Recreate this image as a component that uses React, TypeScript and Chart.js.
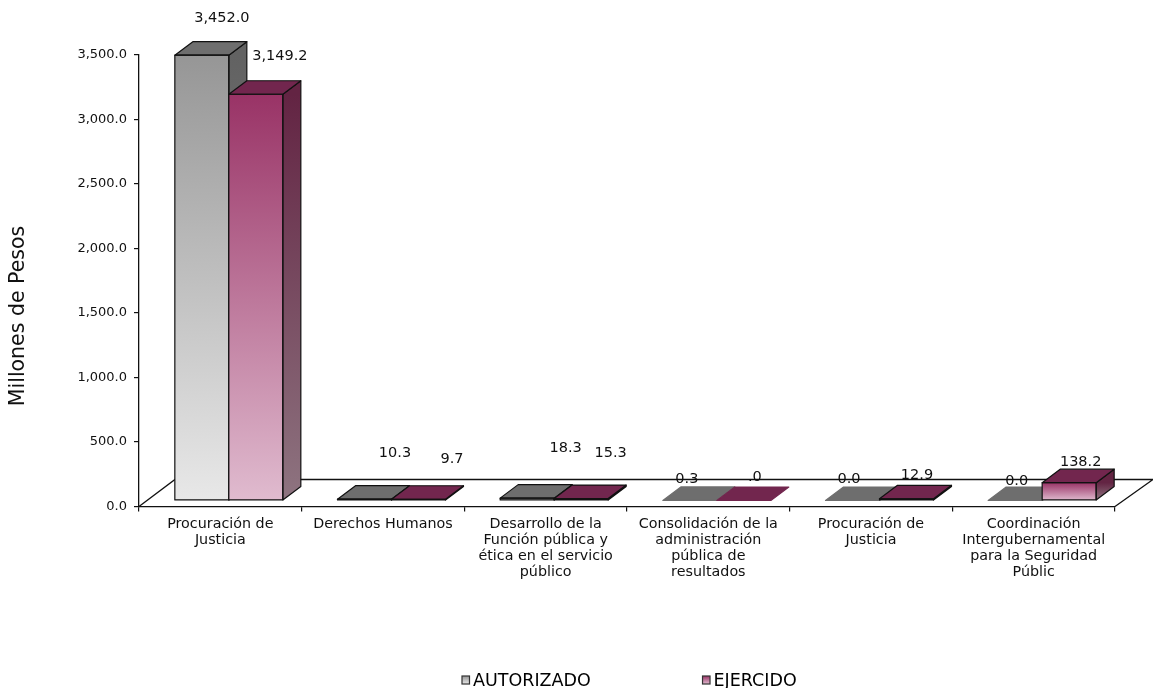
import React, { useEffect, useRef } from "react";
import { Chart, registerables } from "chart.js";

Chart.register(...registerables);

const categories: string[][] = [
  ["Procuración de", "Justicia"],
  ["Derechos Humanos"],
  ["Desarrollo de la", "Función pública y", "ética en el servicio", "público"],
  ["Consolidación de la", "administración", "pública de", "resultados"],
  ["Procuración de", "Justicia"],
  ["Coordinación", "Intergubernamental", "para la Seguridad", "Públic"],
];
const autorizado = [3452.0, 10.3, 18.3, 0.3, 0.0, 0.0];
const ejercido = [3149.2, 9.7, 15.3, 0.0, 12.9, 138.2];
const autorizadoLabels = ["3,452.0", "10.3", "18.3", "0.3", "0.0", "0.0"];
const ejercidoLabels = ["3,149.2", "9.7", "15.3", ".0", "12.9", "138.2"];
const axisTitle = "Millones de Pesos";
const seriesNames = ["AUTORIZADO", "EJERCIDO"];

// label nudges relative to each bar's top
const labelNudges = [
  [[28.5, -43], [39, -52], [47, -56], [5.5, -27], [5, -27], [10, -25]],
  [[32.5, -44], [42, -46], [38, -51], [19.5, -29], [19, -30], [20, -26]],
];
const seriesLabels = [autorizadoLabels, ejercidoLabels];

const FONT = '"DejaVu Sans"';
const LEGEND_SIZE = 17.5;
const LEGEND_BOX = 4;
const INK = "#111111";
const SHIFT_X = 8.5;
const SHIFT_Y = -6;
const DEPTH_X = 18;
const DEPTH_Y = -13.5;

const palette = [
  { front: ["#969696", "#e8e8e8"], top: "#6e6e6e", side: ["#626262", "#8c8c8c"] },
  { front: ["#993366", "#e0bbcf"], top: "#72264e", side: ["#632443", "#8e7480"] },
];

function frontGradient(seriesIndex: number) {
  return (ctx: any) => {
    const chart = ctx.chart;
    const value = ctx.raw as number;
    const scale = chart.scales.y;
    if (typeof value !== "number" || !scale) return palette[seriesIndex].front[0];
    const g = chart.ctx.createLinearGradient(0, scale.getPixelForValue(value), 0, scale.getPixelForValue(0));
    g.addColorStop(0, palette[seriesIndex].front[0]);
    g.addColorStop(1, palette[seriesIndex].front[1]);
    return g;
  };
}

function drawDepthFaces(ctx: any, meta: any, colors: any) {
  ctx.lineWidth = 1.2;
  ctx.lineJoin = "round";
  for (const el of meta.data) {
    const half = el.width / 2;
    const l = el.x - half;
    const r = el.x + half;
    const t = el.y;
    const b = el.base;
    const flat = b - t < 0.2;
    ctx.strokeStyle = flat ? colors.top : INK;
    // side face
    if (b - t > 0.5) {
      const g = ctx.createLinearGradient(0, t, 0, b);
      g.addColorStop(0, colors.side[0]);
      g.addColorStop(1, colors.side[1]);
      ctx.fillStyle = g;
      ctx.beginPath();
      ctx.moveTo(r, t);
      ctx.lineTo(r + DEPTH_X, t + DEPTH_Y);
      ctx.lineTo(r + DEPTH_X, b + DEPTH_Y);
      ctx.lineTo(r, b);
      ctx.closePath();
      ctx.fill();
      ctx.stroke();
    }
    // top face
    ctx.fillStyle = colors.top;
    ctx.beginPath();
    ctx.moveTo(l, t);
    ctx.lineTo(l + DEPTH_X, t + DEPTH_Y);
    ctx.lineTo(r + DEPTH_X, t + DEPTH_Y);
    ctx.lineTo(r, t);
    ctx.closePath();
    ctx.fill();
    ctx.stroke();
    // front outline
    if (!flat) ctx.strokeRect(l, t, r - l, b - t);
  }
}

const depthPlugin = {
  id: "depth",
  afterLayout(chart: any) {
    const lg = chart.legend;
    const pad = lg.options.labels.padding;
    const h = lg.height;
    lg.left = 473 - LEGEND_BOX - LEGEND_SIZE / 2 - pad;
    lg.right = 1153;
    lg.width = lg.right - lg.left;
    lg.top = 673 - pad;
    lg.bottom = lg.top + Math.max(h, pad + 40);
  },
  beforeDatasetsDraw(chart: any) {
    const { ctx, chartArea: a } = chart;
    ctx.save();
    ctx.strokeStyle = INK;
    ctx.lineWidth = 1.3;
    ctx.beginPath();
    ctx.moveTo(a.left, a.bottom);
    ctx.lineTo(a.left + 36, a.bottom + 2 * DEPTH_Y);
    ctx.lineTo(a.right + 38, a.bottom + 2 * DEPTH_Y);
    ctx.lineTo(a.right, a.bottom);
    ctx.stroke();
    ctx.restore();
  },
  // Series are painted left to right below, so the nearer bar covers its neighbour's side.
  beforeDatasetDraw() {
    return false;
  },
  afterDatasetsDraw(chart: any) {
    const ctx = chart.ctx;
    chart.data.datasets.forEach((_: any, si: number) => {
      const meta = chart.getDatasetMeta(si);
      ctx.save();
      ctx.translate(SHIFT_X, SHIFT_Y);
      meta.controller.draw();
      drawDepthFaces(ctx, meta, palette[si]);
      ctx.restore();
    });
    ctx.save();
    ctx.fillStyle = INK;
    ctx.textAlign = "center";
    ctx.textBaseline = "middle";
    ctx.font = `14.5px ${FONT}`;
    chart.data.datasets.forEach((_: any, si: number) => {
      chart.getDatasetMeta(si).data.forEach((el: any, i: number) => {
        const [dx, dy] = labelNudges[si][i];
        ctx.fillText(seriesLabels[si][i], el.x + dx, el.y + dy);
      });
    });
    ctx.save();
    ctx.translate(19, 316);
    ctx.rotate(-Math.PI / 2);
    ctx.font = `20.5px ${FONT}`;
    ctx.fillText(axisTitle, 0, 0);
    ctx.restore();
    // legend swatches, in the gradient of each series
    const lg = chart.legend;
    const pad = lg.options.labels.padding;
    ctx.font = `${LEGEND_SIZE}px ${FONT}`;
    let textX = lg.left + pad + LEGEND_BOX + LEGEND_SIZE / 2;
    seriesNames.forEach((name, i) => {
      const g = ctx.createLinearGradient(0, 676, 0, 684);
      g.addColorStop(0, palette[i].front[0]);
      g.addColorStop(1, palette[i].front[1]);
      ctx.fillStyle = g;
      ctx.strokeStyle = "#333333";
      ctx.lineWidth = 1.2;
      ctx.fillRect(textX - 11, 676, 7.5, 8);
      ctx.strokeRect(textX - 11, 676, 7.5, 8);
      textX += ctx.measureText(name).width + pad + LEGEND_BOX + LEGEND_SIZE / 2;
    });
    ctx.restore();
  },
};

export default function App() {
  const ref = useRef<HTMLCanvasElement | null>(null);
  useEffect(() => {
    if (!ref.current) return;
    const chart = new Chart(ref.current, {
      type: "bar",
      data: {
        labels: categories,
        datasets: [
          { label: seriesNames[0], data: autorizado, backgroundColor: frontGradient(0), borderWidth: 0, clip: false },
          { label: seriesNames[1], data: ejercido, backgroundColor: frontGradient(1), borderWidth: 0, clip: false },
        ],
      } as any,
      options: {
        responsive: false,
        animation: false,
        devicePixelRatio: 1,
        events: [],
        layout: { padding: { left: 0, top: 55, right: 38, bottom: -46 } },
        datasets: { bar: { categoryPercentage: 108 / 162.67, barPercentage: 1 } },
        scales: {
          x: {
            grid: { drawOnChartArea: false, tickLength: 5, color: INK, lineWidth: 1.2 },
            border: { color: INK, width: 1.3 },
            ticks: {
              color: INK,
              font: { family: FONT, size: 14.3, lineHeight: 1.12 },
              padding: 5,
              maxRotation: 0,
              minRotation: 0,
              autoSkip: false,
            },
            afterFit(scale: any) {
              scale.height = 90;
            },
          },
          y: {
            min: 0,
            max: 3500,
            grid: { drawOnChartArea: false, tickLength: 5, color: INK, lineWidth: 1.2 },
            border: { color: INK, width: 1.3 },
            ticks: {
              stepSize: 500,
              color: INK,
              font: { family: FONT, size: 13 },
              padding: 7,
              callback: (v: any) =>
                Number(v).toLocaleString("en-US", { minimumFractionDigits: 1, maximumFractionDigits: 1 }),
            },
            afterFit(scale: any) {
              scale.width = 139;
            },
          },
        },
        plugins: {
          tooltip: { enabled: false },
          title: { display: false },
          legend: {
            display: true,
            position: "bottom",
            align: "start",
            labels: {
              boxWidth: LEGEND_BOX,
              boxHeight: 8,
              padding: 110,
              color: INK,
              font: { family: FONT, size: LEGEND_SIZE },
              generateLabels: () =>
                seriesNames.map((name, i) => ({
                  text: name,
                  fillStyle: "rgba(0,0,0,0)",
                  strokeStyle: "rgba(0,0,0,0)",
                  lineWidth: 0,
                  datasetIndex: i,
                  hidden: false,
                })),
            },
          },
        },
      },
      plugins: [depthPlugin],
    } as any);
    return () => chart.destroy();
  }, []);
  return (
    <canvas
      ref={ref}
      width={1153}
      height={688}
      style={{ position: "fixed", left: 0, top: 0, width: 1153, height: 688, display: "block" }}
    />
  );
}
